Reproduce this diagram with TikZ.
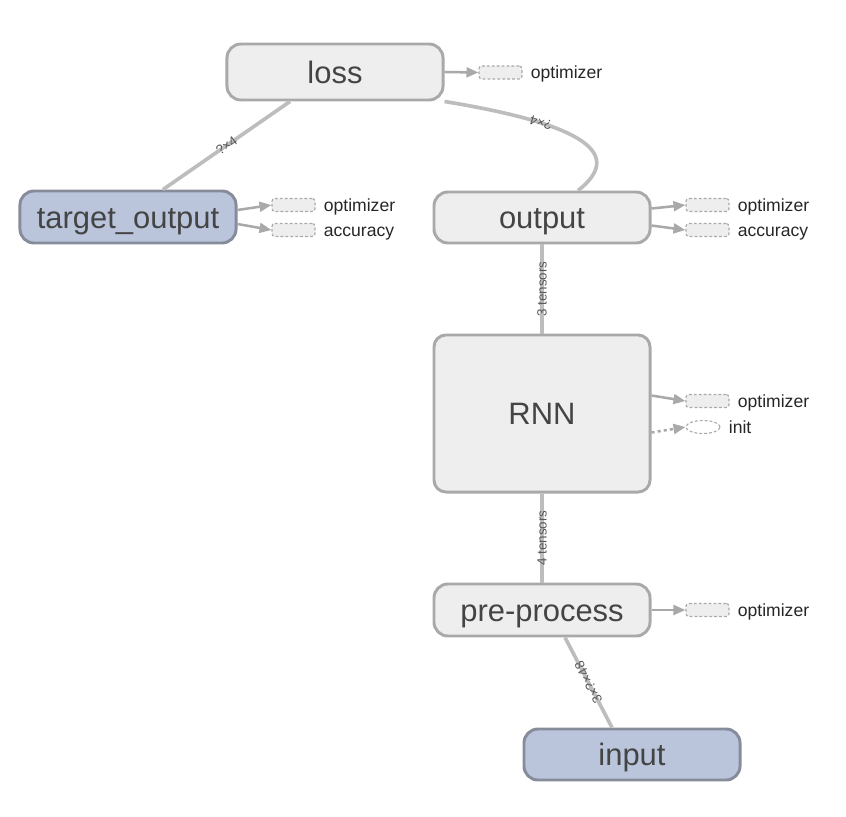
\documentclass[tikz,border=0pt]{standalone}
\usepackage{fontspec}
\setmainfont{Liberation Sans}
\usetikzlibrary{positioning,arrows.meta,shapes.geometric}

\definecolor{boxfill}{HTML}{EEEEEE}
\definecolor{boxline}{HTML}{A9A9A9}
\definecolor{ioline}{HTML}{878C9B}
\definecolor{iofill}{HTML}{BAC5DC}
\definecolor{edgegray}{HTML}{BDBDBD}
\definecolor{txtgray}{HTML}{444444}

\begin{document}
\begin{tikzpicture}[x=0.025cm, y=-0.025cm,
  op/.style={rectangle, rounded corners=0.35cm, draw=boxline, fill=boxfill, line width=2.1pt,
    minimum width=5.4cm, minimum height=1.3cm, inner sep=0pt, text=txtgray,
    text height=15.8pt, text depth=0pt, font=\fontsize{22}{26}\selectfont},
  io/.style={op, draw=ioline, fill=iofill},
  stub/.style={rectangle, rounded corners=2pt, draw=boxline, fill=boxfill,
    dash pattern=on 2pt off 1.5pt, line width=0.8pt,
    minimum width=1.075cm, minimum height=0.325cm, inner sep=0pt},
  stubinit/.style={ellipse, draw=boxline, dash pattern=on 2pt off 1.5pt, line width=0.8pt,
    minimum width=0.85cm, minimum height=0.325cm, inner sep=0pt},
  stubtext/.style={right=0.2cm of #1, inner sep=0pt, text=black!85,
    text height=9pt, text depth=0pt, font=\fontsize{12.5}{14}\selectfont},
  flow/.style={draw=edgegray, line width=2.6pt},
  side/.style={draw=boxline, line width=1.8pt, -{Triangle[length=8.5pt,width=7pt]}},
  tag/.style={font=\fontsize{9.5}{11}\selectfont, text=black!65, inner sep=0pt}]

  \useasboundingbox (0,0) rectangle (846,816);

  % main ops
  \node[op, minimum height=1.4cm] (loss) at (335,72) {loss};
  \node[io] (tout) at (128,217) {target\_output};
  \node[op, minimum height=1.275cm] (output) at (542,217.5) {output};
  \node[op, minimum height=3.925cm, rounded corners=0.3cm] (rnn) at (542,413.5) {RNN};
  \node[op] (prep) at (542,610) {pre-process};
  \node[io, minimum height=1.275cm] (input) at (632,754.5) {input};

  % side stubs
  \node[stub] (lossopt) at (500.5,72.5) {};
  \node[stubtext=lossopt] (lossoptl) {optimizer};
  \node[stub] (toutopt) at (293.5,205) {};
  \node[stubtext=toutopt] (toutoptl) {optimizer};
  \node[stub] (toutacc) at (293.5,230) {};
  \node[stubtext=toutacc] (toutaccl) {accuracy};
  \node[stub] (outopt) at (707.5,205) {};
  \node[stubtext=outopt] (outoptl) {optimizer};
  \node[stub] (outacc) at (707.5,230) {};
  \node[stubtext=outacc] (outaccl) {accuracy};
  \node[stub] (rnnopt) at (707.5,401) {};
  \node[stubtext=rnnopt] (rnnoptl) {optimizer};
  \node[stubinit] (rnninit) at (703,427) {};
  \node[stubtext=rnninit] (rnninitl) {init};
  \node[stub] (prepopt) at (707.5,610) {};
  \node[stubtext=prepopt] (prepoptl) {optimizer};

  % edges
  \draw[flow] ([xshift=0.875cm]tout.north) -- node[tag, pos=0.5, rotate=35.6] (lbla) {?×4} ([xshift=-1.125cm]loss.south);
  \draw[flow] ([xshift=0.9cm]output.north) .. controls (630,150) and (570,122) .. node[tag, pos=0.69, rotate=162] (lblb) {?×4} (loss.south east);
  \draw[flow] (output.south) -- node[tag, rotate=90] (lblc) {3 tensors} (rnn.north);
  \draw[flow] (rnn.south) -- node[tag, rotate=90] (lbld) {4 tensors} (prep.north);
  \draw[flow] ([xshift=-0.5cm]input.north) -- node[tag, rotate=117.3] (lble) {3×?×48} ([xshift=0.575cm]prep.south);

  \draw[side] (loss.east) -- (lossopt.west);
  \draw[side] ([yshift=0.175cm]tout.east) -- (toutopt.west);
  \draw[side] ([yshift=-0.175cm]tout.east) -- (toutacc.west);
  \draw[side] ([yshift=0.225cm]output.east) -- (outopt.west);
  \draw[side] ([yshift=-0.2cm]output.east) -- (outacc.west);
  \draw[side] ([yshift=0.45cm]rnn.east) -- (rnnopt.west);
  \draw[side, dash pattern=on 2.2pt off 2.2pt] ([yshift=-0.475cm]rnn.east) -- (rnninit.west);
  \draw[side] (prep.east) -- (prepopt.west);
\end{tikzpicture}
\end{document}
